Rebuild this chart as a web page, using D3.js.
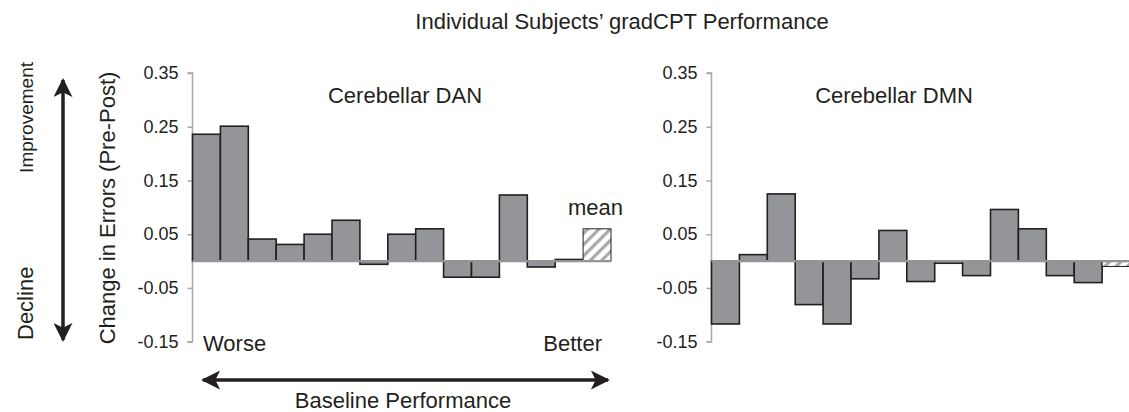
<!DOCTYPE html>
<html><head><meta charset="utf-8">
<script src="https://cdn.jsdelivr.net/npm/d3@7"></script>
<style>body{margin:0;background:#fff}svg{display:block}text{font-family:"Liberation Sans",Arial,sans-serif;fill:#231f20}</style>
</head><body>
<svg id="c" width="1129" height="412"></svg>
<script>
const subjects = d3.range(1, 15).map(i => "S" + i).concat(["mean"]);
const danValues = [0.236, 0.251, 0.041, 0.031, 0.050, 0.076, -0.006, 0.050, 0.060, -0.030, -0.030, 0.123, -0.011, 0.003, 0.060];
const dmnValues = [-0.117, 0.012, 0.125, -0.081, -0.117, -0.033, 0.057, -0.038, -0.004, -0.027, 0.096, 0.060, -0.027, -0.040, -0.010];
const yTicks = [-0.15, -0.05, 0.05, 0.15, 0.25, 0.35];
const panels = [
  {title: "Cerebellar DAN", values: danValues, x0: 192.5, x1: 611, titleX: 405, showMeanLabel: true},
  {title: "Cerebellar DMN", values: dmnValues, x0: 711.5, x1: 1130, titleX: 894, showMeanLabel: false}
];

const svg = d3.select("#c");
const defs = svg.append("defs");
const pat = defs.append("pattern").attr("id", "hatch").attr("patternUnits", "userSpaceOnUse")
  .attr("width", 8).attr("height", 8).attr("patternTransform", "rotate(45)");
pat.append("rect").attr("width", 8).attr("height", 8).attr("fill", "#fff");
pat.append("rect").attr("x", 0).attr("width", 3.2).attr("height", 8).attr("fill", "#a7a9ac");

const y = d3.scaleLinear().domain([-0.15, 0.35]).range([341.7, 73]);
const fmt = d => d3.format(".2f")(d).replace("−", "-");

svg.append("text").attr("x", 622).attr("y", 29).attr("text-anchor", "middle")
  .style("font-size", "22px").text("Individual Subjects’ gradCPT Performance");

panels.forEach(p => {
  const x = d3.scaleBand().domain(subjects).range([p.x0, p.x1]).padding(0);
  const g = svg.append("g");
  const axis = d3.axisLeft(y).tickValues(yTicks).tickSize(5).tickPadding(9).tickFormat(fmt);
  const ag = g.append("g").attr("transform", `translate(${p.x0},0)`).call(axis);
  ag.select(".domain").attr("stroke", "#a7a9ac").attr("stroke-width", 1.5).attr("d", `M-5,${y(0.35)}H0V${y(-0.15)}H-5`);
  ag.selectAll(".tick line").attr("stroke", "#a7a9ac").attr("stroke-width", 1.5);
  ag.selectAll(".tick text").style("font-size", "18px").attr("fill", "#231f20").style("font-family", '"Liberation Sans",Arial,sans-serif');

  g.selectAll("rect.bar").data(p.values).join("rect").attr("class", "bar")
    .attr("x", (d, i) => x(subjects[i]))
    .attr("width", x.bandwidth())
    .attr("y", d => y(Math.max(0, d)))
    .attr("height", d => Math.abs(y(d) - y(0)))
    .attr("fill", (d, i) => subjects[i] === "mean" ? "url(#hatch)" : "#939598")
    .attr("stroke", "#231f20")
    .attr("stroke-width", (d, i) => subjects[i] === "mean" ? 1 : 1.6);

  g.append("line").attr("x1", p.x0).attr("x2", p.x1).attr("y1", y(0)).attr("y2", y(0))
    .attr("stroke", "#939598").attr("stroke-width", 2.2);

  g.append("text").attr("x", p.titleX).attr("y", 103).attr("text-anchor", "middle")
    .style("font-size", "22px").text(p.title);

  if (p.showMeanLabel) {
    g.append("text").attr("x", x("mean") + x.bandwidth() / 2 - 1.5).attr("y", 215)
      .attr("text-anchor", "middle").style("font-size", "22px").text("mean");
  }
});

// y axis label
svg.append("text").attr("transform", "translate(115,208) rotate(-90)").attr("text-anchor", "middle")
  .style("font-size", "22px").text("Change in Errors (Pre-Post)");
svg.append("text").attr("transform", "translate(33,62) rotate(-90)").attr("text-anchor", "end")
  .style("font-size", "19px").text("Improvement");
svg.append("text").attr("transform", "translate(33,340) rotate(-90)").attr("text-anchor", "start")
  .style("font-size", "22px").text("Decline");

svg.append("text").attr("x", 203).attr("y", 351).style("font-size", "22px").text("Worse");
svg.append("text").attr("x", 602).attr("y", 351).attr("text-anchor", "end").style("font-size", "22px").text("Better");
svg.append("text").attr("x", 403).attr("y", 408).attr("text-anchor", "middle").style("font-size", "22px").text("Baseline Performance");

// arrows
defs.append("marker").attr("id", "ah").attr("viewBox", "0 0 20 20").attr("refX", 18).attr("refY", 10)
  .attr("markerUnits", "userSpaceOnUse").attr("markerWidth", 19).attr("markerHeight", 19).attr("orient", "auto-start-reverse")
  .append("path").attr("d", "M0,0L20,10L0,20L5,10Z").attr("fill", "#231f20");
svg.append("line").attr("x1", 63).attr("x2", 63).attr("y1", 80).attr("y2", 340)
  .attr("stroke", "#231f20").attr("stroke-width", 3.5).attr("marker-start", "url(#ah)").attr("marker-end", "url(#ah)");
svg.append("line").attr("x1", 203).attr("x2", 608).attr("y1", 380).attr("y2", 380)
  .attr("stroke", "#231f20").attr("stroke-width", 3.5).attr("marker-start", "url(#ah)").attr("marker-end", "url(#ah)");
</script>
</body></html>
